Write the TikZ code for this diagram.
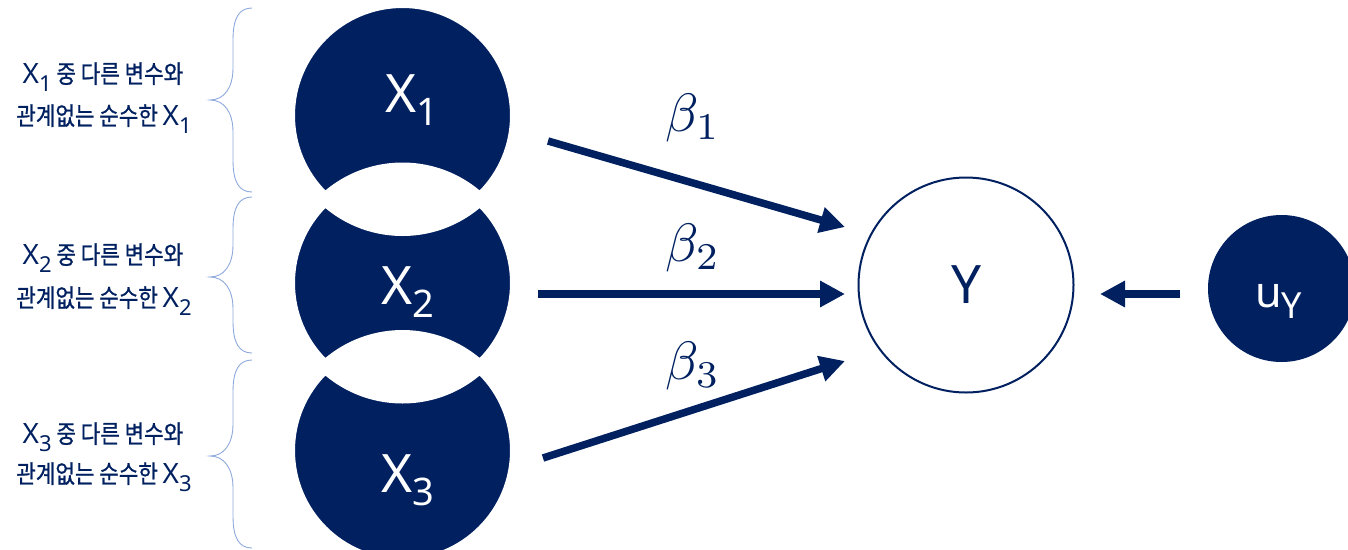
\documentclass[tikz,border=0pt]{standalone}
\usepackage{fontspec}
\setmainfont{Noto Sans}
\newfontfamily\kr[FakeStretch=0.85,FakeBold=0.8]{Noto Sans CJK KR}
\usetikzlibrary{arrows.meta}
\definecolor{navy}{HTML}{002060}
\definecolor{bracec}{HTML}{8EA9DB}
\newcommand{\lsub}[3]{\raisebox{-#1}{\fontsize{#2}{#2}\selectfont #3}}
\newcommand{\kx}[1]{{\rmfamily\fontsize{28}{28}\selectfont X\lsub{8pt}{22}{#1}}}
\newcommand{\mybrace}[3]{%
  \draw[lbrace] (252,#1) .. controls (239,#1) and (233,{#1+10}) .. (233,{#1+32})
    -- (233,{#2-32}) .. controls (233,{#2-12}) and (224,#2) .. (210,#2)
    .. controls (224,#2) and (233,{#2+12}) .. (233,{#2+32})
    -- (233,{#3-32}) .. controls (233,{#3-10}) and (239,#3) .. (252,#3);}
\begin{document}
\begin{tikzpicture}[x=1pt,y=-1pt,
  lbrace/.style={bracec, line width=0.9pt},
  xc/.style={circle, minimum size=228pt, inner sep=0pt, outer sep=0pt},
  lbl/.style={white, inner sep=0pt, font=\fontsize{53}{53}\selectfont},
  beta/.style={navy, inner sep=0pt, scale=5.4, font=\fontsize{10}{12}\selectfont},
  kline/.style={navy, inner sep=0pt, font=\kr\fontsize{25}{25}\selectfont},
  conn/.style={navy, line width=7.5pt, -{Triangle[length=25pt,width=25pt]}}]
\useasboundingbox (0,0) rectangle (1348,549);
% X circles
\node[xc] (x1) at (402.5,115.5) {};
\node[xc] (x2) at (402.5,283) {};
\node[xc] (x3) at (402.5,450.5) {};
\fill[navy, even odd rule] (x1.center) circle[radius=114pt] (x2.center) circle[radius=114pt] (x3.center) circle[radius=114pt];
\draw[white, line width=13pt] (x1.center) circle[radius=114pt] (x2.center) circle[radius=114pt] (x3.center) circle[radius=114pt];
\node[lbl, anchor=base west] (l1) at (385,112) {X\lsub{13pt}{38}{1}};
\node[lbl, anchor=base west] (l2) at (381,304) {X\lsub{13pt}{38}{2}};
\node[lbl, anchor=base west] (l3) at (381,492) {X\lsub{13pt}{38}{3}};
% Y
\node[circle, draw=navy, line width=2pt, minimum size=215pt, inner sep=0pt] (y) at (966,285) {};
\node[navy, inner sep=0pt, anchor=base, font=\fontsize{53}{53}\selectfont] (yl) at (966,303) {Y};
% u_Y
\node[circle, fill=navy, minimum size=147pt, inner sep=0pt] (u) at (1281.5,288.5) {};
\node[white, inner sep=0pt, anchor=base west] (ul) at (1255,307) {\fontsize{43}{43}\selectfont u\lsub{11pt}{36}{Y}};
% arrows
\coordinate (a1) at (548,141); \coordinate (b1) at (845,227);
\coordinate (a2) at (538,294); \coordinate (b2) at (845,294);
\coordinate (a3) at (543,458); \coordinate (b3) at (845,361);
\coordinate (ua) at (1180,294); \coordinate (ub) at (1100,294);
\draw[conn] (a1) -- (b1);
\draw[conn] (a2) -- (b2);
\draw[conn] (a3) -- (b3);
\draw[conn] (ua) -- (ub);
\node[beta, anchor=base] (be1) at (693,131) {$\beta_1$};
\node[beta, anchor=base] (be2) at (693,261) {$\beta_2$};
\node[beta, anchor=base] (be3) at (693,379) {$\beta_3$};
% braces
\mybrace{8}{100}{192}
\mybrace{197}{277}{353}
\mybrace{360}{456}{548}
% texts
\node[kline, anchor=base] (t1a) at (103,83) {\kx{1} 중 다른 변수와};
\node[kline, anchor=base] (t1b) at (104,125) {관계없는 순수한 \kx{1}};
\node[kline, anchor=base] (t2a) at (103,264) {\kx{2} 중 다른 변수와};
\node[kline, anchor=base] (t2b) at (104,307) {관계없는 순수한 \kx{2}};
\node[kline, anchor=base] (t3a) at (103,443) {\kx{3} 중 다른 변수와};
\node[kline, anchor=base] (t3b) at (104,483) {관계없는 순수한 \kx{3}};
\end{tikzpicture}
\end{document}
